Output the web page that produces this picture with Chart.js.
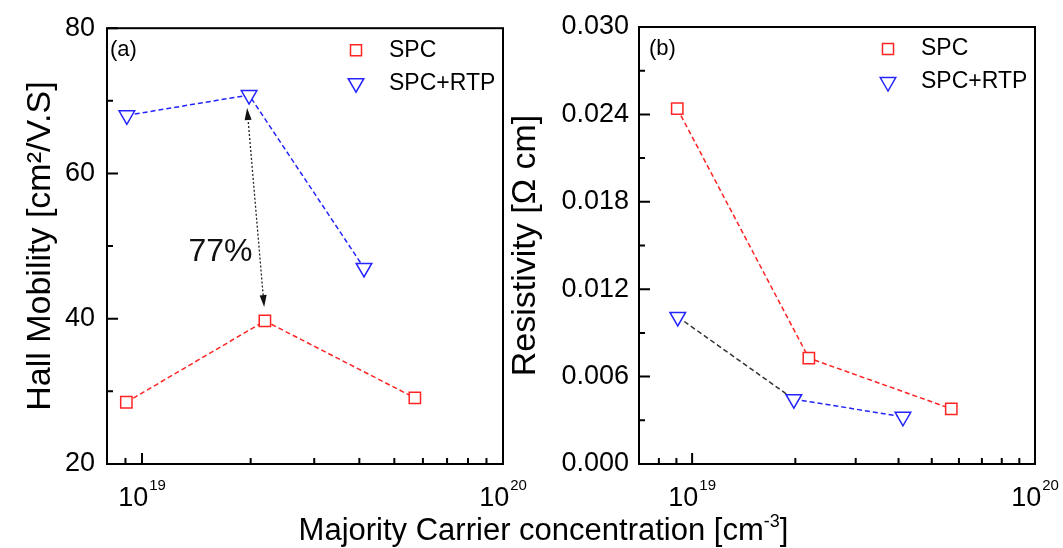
<!DOCTYPE html>
<html>
<head>
<meta charset="utf-8">
<script src="https://cdn.jsdelivr.net/npm/chart.js@4.4.0/dist/chart.umd.min.js"></script>
<style>
  html, body { margin: 0; padding: 0; background: #fff; }
  #wrap { position: relative; width: 1063px; height: 548px; overflow: hidden; }
  #c1 { position: absolute; left: 0; top: 0; }
  #c2 { position: absolute; left: 500px; top: 0; }
  #xt { position: absolute; left: 0; width: 1087px; top: 514px; text-align: center; white-space: nowrap;
        font: 31px "Liberation Sans", Arial, sans-serif; line-height: 31px; color: #000; }
  #xt span { font-size: 18px; position: relative; top: -13px; }
</style>
</head>
<body>
<div id="wrap">
  <canvas id="c1" width="530" height="548"></canvas>
  <canvas id="c2" width="563" height="548"></canvas>
  <div id="xt">Majority Carrier concentration [cm<span>-3</span>]</div>
</div>
<script>
  const FONT = '"Liberation Sans", Arial, sans-serif';
  const RED = '#ff2424';
  const BLUE = '#2424ff';

  /* ── data ── */
  const carrierSpc = [9.05e18, 2.19e19, 5.7e19];
  const carrierRtp = [9.08e18, 1.98e19, 4.12e19];
  const mobilitySpc = [28.5, 39.7, 29.1];
  const mobilityRtp = [68.0, 70.8, 47.0];
  const resistSpc = [0.0244, 0.00727, 0.00379];
  const resistRtp = [0.0101, 0.00445, 0.00324];

  const seriesNames = ['SPC', 'SPC+RTP'];
  const xMajorTicks = [1e19, 1e20];
  const xMinorTicksA = [9e18, 2e19, 3e19, 4e19, 5e19, 6e19, 7e19, 8e19, 9e19];
  const xMinorTicksB = [8e18, 9e18, 2e19, 3e19, 4e19, 5e19, 6e19, 7e19, 8e19, 9e19];
  const mobilityMajor = [20, 40, 60, 80];
  const mobilityMinor = [30, 50, 70];
  const resistMajor = [0, 0.006, 0.012, 0.018, 0.024, 0.030];
  const resistMinor = [0.003, 0.009, 0.015, 0.021, 0.027];

  // annotation of panel (a), in data units
  const arrowTop = [1.955e19, 69.0];
  const arrowBottom = [2.18e19, 41.6];
  const percentAt = [1.65e19, 49.2];

  function pts(xs, ys) { return xs.map(function (x, i) { return { x: x, y: ys[i] }; }); }

  function drawPow(ctx, x, y, base, exp) {
    ctx.font = '27px ' + FONT; const w1 = ctx.measureText(base).width;
    ctx.font = '15px ' + FONT; const w2 = ctx.measureText(exp).width;
    const x0 = x - (w1 + w2 + 1) / 2;
    ctx.textAlign = 'left'; ctx.textBaseline = 'alphabetic';
    ctx.font = '27px ' + FONT; ctx.fillText(base, x0, y);
    ctx.font = '15px ' + FONT; ctx.fillText(exp, x0 + w1 + 1, y - 16);
  }

  function arrowHead(ctx, x, y, ang) {
    const L = 12, W = 3.5;
    ctx.beginPath();
    ctx.moveTo(x, y);
    ctx.lineTo(x - L * Math.cos(ang) + W * Math.sin(ang), y - L * Math.sin(ang) - W * Math.cos(ang));
    ctx.lineTo(x - L * Math.cos(ang) - W * Math.sin(ang), y - L * Math.sin(ang) + W * Math.cos(ang));
    ctx.closePath();
    ctx.fill();
  }

  /* frame, inward ticks, x labels, legend, panel tag */
  function decorPlugin(cfg) {
    return {
      id: 'decor',
      afterDraw: function (chart) {
        const ctx = chart.ctx, a = chart.chartArea;
        const xs = chart.scales.x, ys = chart.scales.y;
        ctx.save();
        ctx.strokeStyle = '#000'; ctx.fillStyle = '#000'; ctx.lineWidth = 2;
        ctx.strokeRect(a.left, a.top, a.right - a.left, a.bottom - a.top);

        ctx.beginPath();
        cfg.yMajor.forEach(function (v) { const p = ys.getPixelForValue(v); ctx.moveTo(a.left, p); ctx.lineTo(a.left + 11, p); });
        cfg.yMinor.forEach(function (v) { const p = ys.getPixelForValue(v); ctx.moveTo(a.left, p); ctx.lineTo(a.left + 6, p); });
        xMajorTicks.forEach(function (v) { const p = xs.getPixelForValue(v); ctx.moveTo(p, a.bottom); ctx.lineTo(p, a.bottom - 11); });
        cfg.xMinor.forEach(function (v) { const p = xs.getPixelForValue(v); ctx.moveTo(p, a.bottom); ctx.lineTo(p, a.bottom - 6); });
        ctx.stroke();

        xMajorTicks.forEach(function (v) {
          drawPow(ctx, xs.getPixelForValue(v), a.bottom + 42, '10', String(Math.round(Math.log10(v))));
        });

        ctx.textAlign = 'left'; ctx.textBaseline = 'middle';
        ctx.font = '22px ' + FONT;
        ctx.fillText(cfg.tag, a.left + cfg.tagDx, a.top + 22);

        // legend
        ctx.font = '23px ' + FONT;
        const lx = a.right - 147;
        chart.data.datasets.forEach(function (ds, i) {
          const ly = a.top + 22 + i * 33;
          ctx.lineWidth = 1.5;
          ctx.strokeStyle = ds.pointBorderColor;
          ctx.beginPath();
          if (ds.pointStyle === 'rect') {
            ctx.rect(lx - 5.5, ly - 5.5, 11, 11);
          } else {
            const r = ds.pointRadius;
            ctx.moveTo(lx, ly + r);
            ctx.lineTo(lx - r * 0.866, ly - r / 2);
            ctx.lineTo(lx + r * 0.866, ly - r / 2);
            ctx.closePath();
          }
          ctx.stroke();
          ctx.fillStyle = '#000';
          ctx.fillText(ds.label, a.right - 114, ly);
        });

        if (cfg.annotate) {
          const x1 = xs.getPixelForValue(arrowTop[0]), y1 = ys.getPixelForValue(arrowTop[1]);
          const x2 = xs.getPixelForValue(arrowBottom[0]), y2 = ys.getPixelForValue(arrowBottom[1]);
          const ang = Math.atan2(y2 - y1, x2 - x1);
          ctx.strokeStyle = '#222'; ctx.fillStyle = '#111'; ctx.lineWidth = 1.3;
          ctx.setLineDash([2, 2]);
          ctx.beginPath();
          ctx.moveTo(x1 + 10 * Math.cos(ang), y1 + 10 * Math.sin(ang));
          ctx.lineTo(x2 - 10 * Math.cos(ang), y2 - 10 * Math.sin(ang));
          ctx.stroke();
          ctx.setLineDash([]);
          arrowHead(ctx, x2, y2, ang);
          arrowHead(ctx, x1, y1, ang + Math.PI);
          ctx.font = '32px ' + FONT; ctx.textAlign = 'center'; ctx.textBaseline = 'middle';
          ctx.fillText('77%', xs.getPixelForValue(percentAt[0]), ys.getPixelForValue(percentAt[1]));
        }
        ctx.restore();
      }
    };
  }

  function dataset(label, data, color, style, extra) {
    const ds = {
      label: label, data: data, showLine: true,
      borderColor: color, borderWidth: 1.5, borderDash: [5, 3],
      pointStyle: style, pointRotation: style === 'triangle' ? 180 : 0,
      pointRadius: style === 'triangle' ? 9 : 8, pointHoverRadius: 8,
      pointBorderColor: color, pointBackgroundColor: '#fff', pointBorderWidth: 1.5
    };
    return Object.assign(ds, extra || {});
  }

  function makeChart(id, c) {
    return new Chart(document.getElementById(id), {
      type: 'scatter',
      data: { datasets: c.datasets },
      options: {
        responsive: false, animation: false, devicePixelRatio: 1,
        layout: { padding: { left: 0, top: 27, right: c.padRight, bottom: 0 } },
        plugins: { legend: { display: false }, tooltip: { enabled: false } },
        scales: {
          x: {
            type: 'logarithmic', min: c.xMin, max: 1e20,
            grid: { display: false, drawTicks: false }, border: { display: false },
            ticks: { display: false },
            afterFit: function (s) { s.height = 84; }
          },
          y: {
            min: c.yMin, max: c.yMax,
            grid: { display: false, drawTicks: false }, border: { display: false },
            ticks: { stepSize: c.step, padding: c.tickPad, color: '#000', font: { family: FONT, size: 27 }, callback: c.fmt },
            title: { display: true, text: c.title, color: '#000', font: { family: FONT, size: 34 }, padding: { top: c.titlePad, bottom: 0 } },
            afterFit: function (s) { s.width = c.yWidth; }
          }
        }
      },
      plugins: [decorPlugin(c.decor)]
    });
  }

  makeChart('c1', {
    datasets: [
      dataset(seriesNames[0], pts(carrierSpc, mobilitySpc), RED, 'rect'),
      dataset(seriesNames[1], pts(carrierRtp, mobilityRtp), BLUE, 'triangle')
    ],
    xMin: 8e18, yMin: 20, yMax: 80, step: 20, tickPad: 12, yWidth: 107, padRight: 27,
    fmt: function (v) { return String(v); },
    title: 'Hall Mobility [cm²/V.S]', titlePad: 20,
    decor: { yMajor: mobilityMajor, yMinor: mobilityMinor, xMinor: xMinorTicksA, tag: '(a)', tagDx: 3, annotate: true }
  });

  makeChart('c2', {
    datasets: [
      dataset(seriesNames[0], pts(carrierSpc, resistSpc), RED, 'rect'),
      dataset(seriesNames[1], pts(carrierRtp, resistRtp), BLUE, 'triangle', {
        segment: { borderColor: function (s) { return s.p0DataIndex === 0 ? '#333' : BLUE; } }
      })
    ],
    xMin: 7e18, yMin: 0, yMax: 0.03, step: 0.006, tickPad: 10, yWidth: 139, padRight: 28,
    fmt: function (v) { return v.toFixed(3); },
    title: 'Resistivity [Ω cm]', titlePad: 5,
    decor: { yMajor: resistMajor, yMinor: resistMinor, xMinor: xMinorTicksB, tag: '(b)', tagDx: 10, annotate: false }
  });
</script>
</body>
</html>
